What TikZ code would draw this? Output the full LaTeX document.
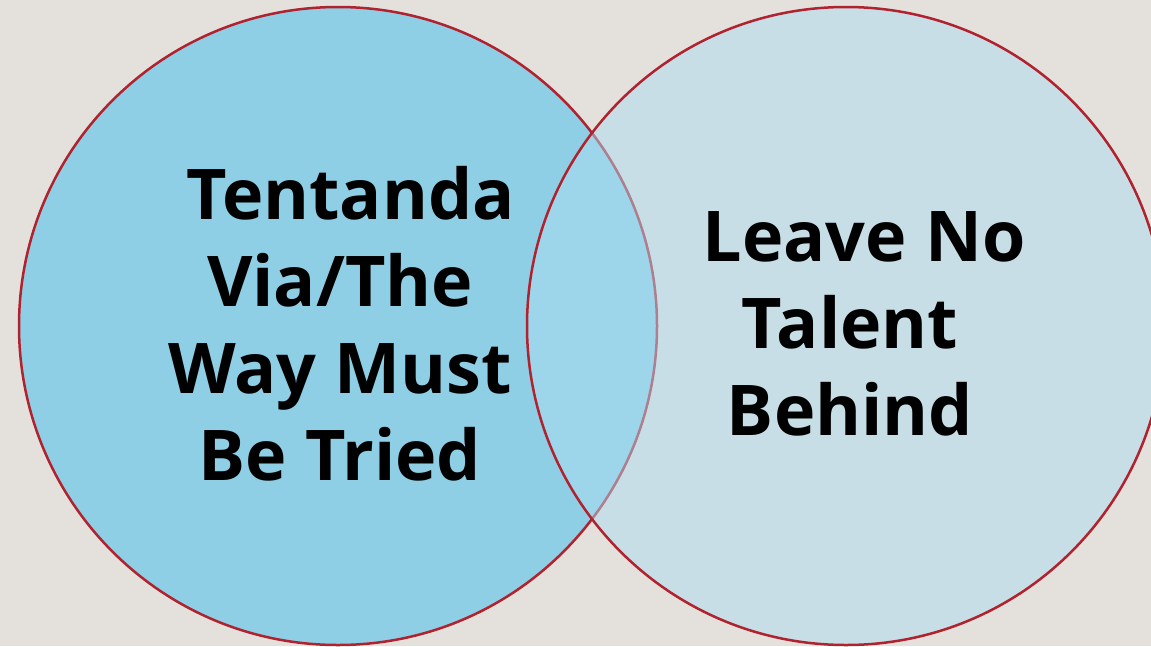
\documentclass[tikz,border=0pt]{standalone}
\usepackage{fontspec}
\setmainfont{Open Sans}
\definecolor{bgcol}{RGB}{228,225,221}
\definecolor{leftcol}{RGB}{142,207,230}
\definecolor{rightcol}{RGB}{172,221,240}
\definecolor{ringcol}{RGB}{176,34,46}
\tikzset{
  ring/.style={draw=ringcol,line width=2.5pt},
  motto/.style={align=center,font=\fontsize{70}{87}\selectfont\bfseries}
}
\begin{document}
\begin{tikzpicture}[x=1pt,y=-1pt]
			\fill[bgcol] (0,0) rectangle (1151,646);
			\useasboundingbox (0,0) rectangle (1151,646);
			\draw[ring,fill=leftcol] (338,326) circle[radius=319];
			\draw[ring,fill=rightcol,fill opacity=.5] (846,326) circle[radius=319];
			%	text
			\node[motto] (way) at (340,324) {\hspace*{.3em}Tentanda\\Via/The\\Way Must\\Be Tried};
			\node[motto] (talent) at (850,324) {\hspace*{.4em}Leave No\\Talent\\Behind};
			\end{tikzpicture}
\end{document}
